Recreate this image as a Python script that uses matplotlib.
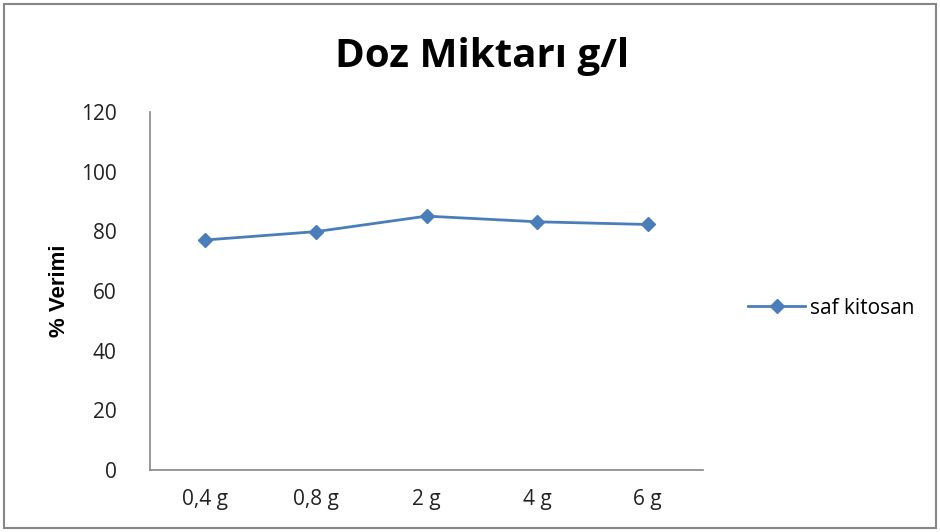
import matplotlib
matplotlib.use("Agg")
import matplotlib.pyplot as plt
from matplotlib.patches import Rectangle

categories = ["0,4 g", "0,8 g", "2 g", "4 g", "6 g"]
values = [77.1, 79.9, 85.1, 83.2, 82.3]
series_name = "saf kitosan"
yticks = [0, 20, 40, 60, 80, 100, 120]

plt.rcParams['font.family'] = ['Open Sans', 'DejaVu Sans']

fig = plt.figure(figsize=(9.4, 5.32), dpi=100)
ax = fig.add_axes([150/940, 1-470/532, (703-150)/940, (470-112)/532])

color = "#4a7ebb"
x = list(range(len(categories)))
ax.plot(x, values, color=color, lw=2, marker="D", ms=7, label=series_name)

ax.set_xlim(-0.5, len(categories)-0.5)
ax.set_ylim(0, 120)
ax.set_yticks(yticks)
ax.set_xticks(x)
ax.set_xticklabels(categories)
ax.tick_params(axis='both', length=0, labelsize=15, colors="#222222")
ax.tick_params(axis='y', pad=24)
ax.tick_params(axis='x', pad=14)
for s in ["top", "right"]:
    ax.spines[s].set_visible(False)
for s in ["left", "bottom"]:
    ax.spines[s].set_color("#868686")
    ax.spines[s].set_linewidth(1.2)

ax.set_ylabel("% Verimi", fontsize=16, fontweight="bold", labelpad=8,
              family=["Liberation Sans", "DejaVu Sans"])
fig.text(482/940, 1-57/532, "Doz Miktarı g/l", ha="center", va="center",
         fontsize=29, fontweight="bold")

ax.legend(loc="center left", bbox_to_anchor=(738/940, 1-308/532), bbox_transform=fig.transFigure,
          frameon=False, fontsize=15, handlelength=2.7, handletextpad=0.25, borderpad=0)

fig.patches.append(Rectangle((4/940, 4/532), 932/940, 524/532, transform=fig.transFigure,
                             fill=False, edgecolor="#868686", lw=1.5))

fig.savefig("out.png", dpi=100)
